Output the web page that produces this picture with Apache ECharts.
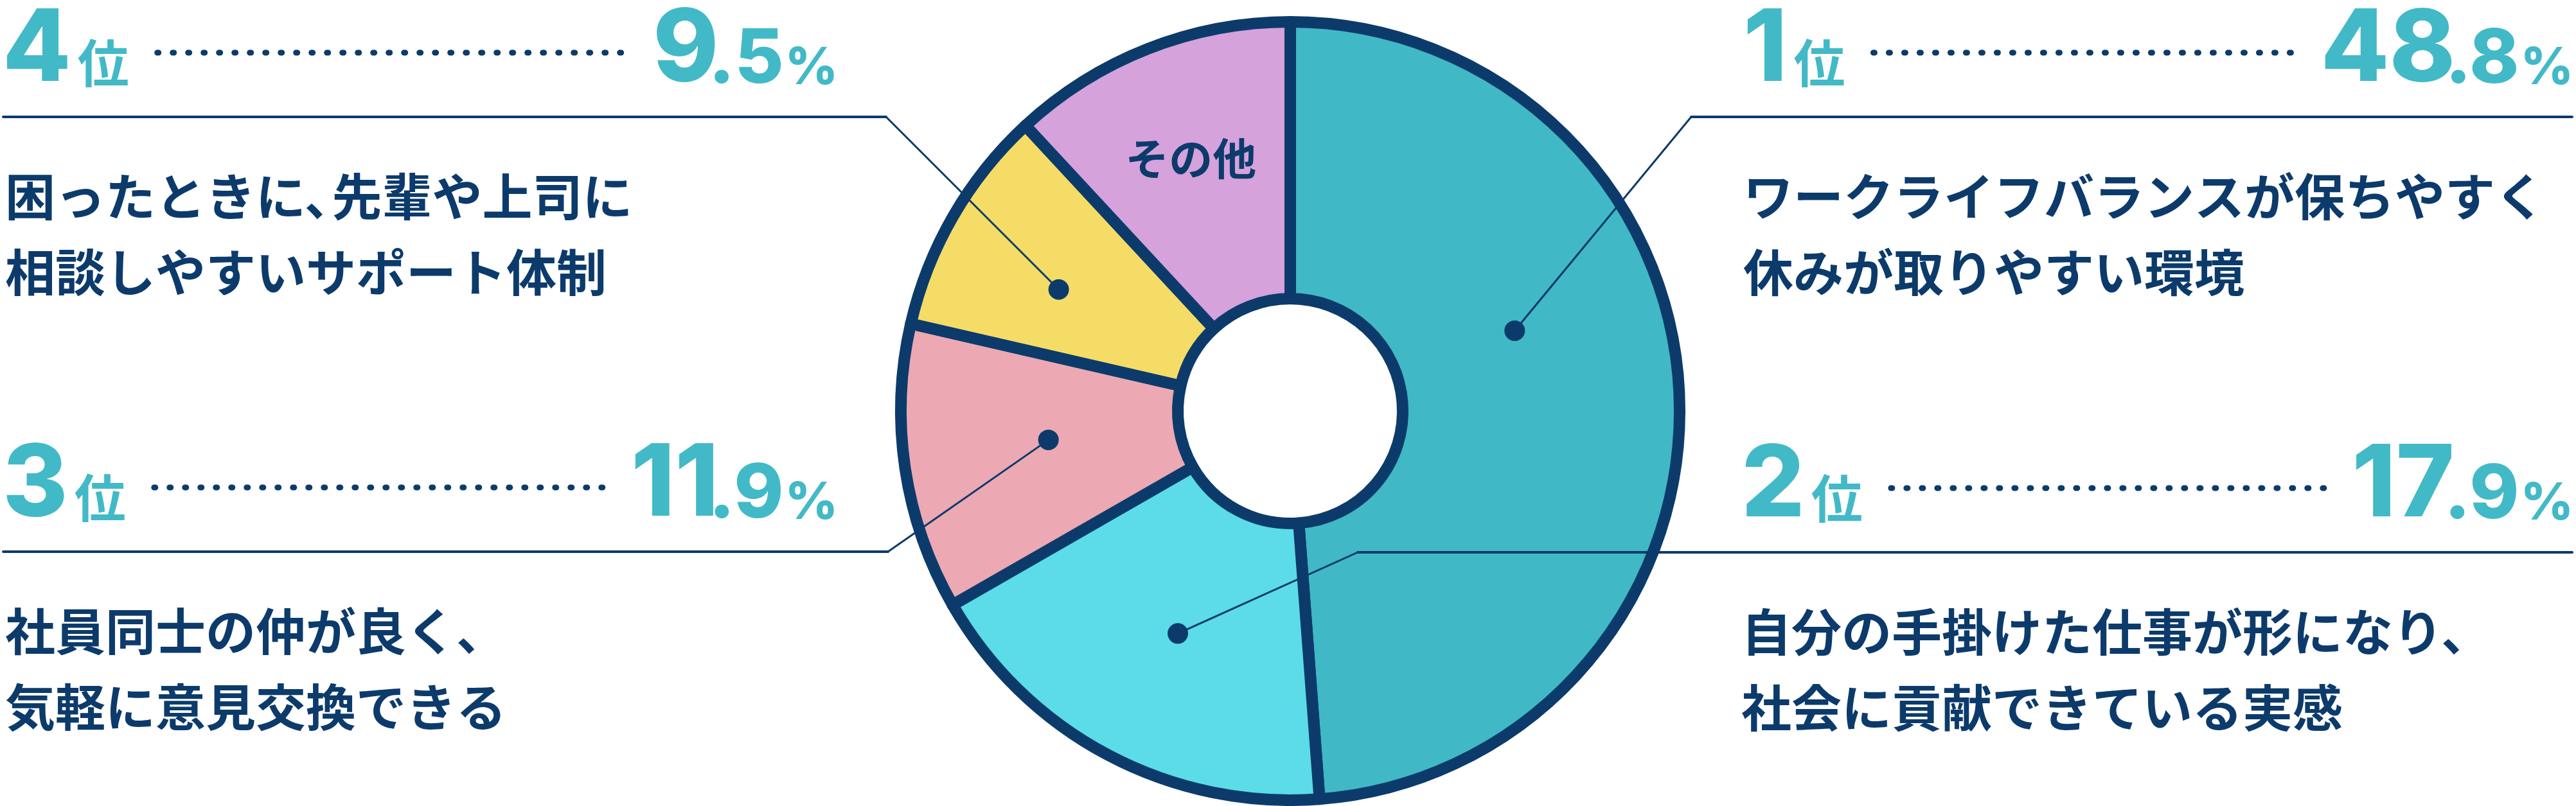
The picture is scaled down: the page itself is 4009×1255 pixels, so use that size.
<!DOCTYPE html>
<html lang="ja">
<head>
<meta charset="UTF-8">
<title>働きやすさの理由</title>
<script src="https://cdn.jsdelivr.net/npm/echarts@6/dist/echarts.min.js"></script>
<style>
  html, body { margin: 0; padding: 0; background: #fff; }
  #chart { width: 4009px; height: 1255px; }
</style>
</head>
<body>
<div id="chart"></div>
<script>
// ---- data ----
const names = [
  'ワークライフバランスが保ちやすく\n休みが取りやすい環境',
  '自分の手掛けた仕事が形になり、\n社会に貢献できている実感',
  '社員同士の仲が良く、\n気軽に意見交換できる',
  '困ったときに、先輩や上司に\n相談しやすいサポート体制',
  'その他'
];
const values = [48.8, 17.9, 11.9, 9.5, 11.9];
const ranks = [1, 2, 3, 4, null];
const rankSuffix = '位';

// ---- styles / layout ----
const NAVY = '#0c3b6b';
const TEAL = '#42b9c7';
const sliceColors = ['#41b8c6', '#5cdbe8', '#eca9b3', '#f5dc66', '#d5a2db'];
const PIE = { cx: 2008, cy: 640, r0: 175, r1: 606 };
const NUM_FONT = 'Inter';
const JP_FONT = '"Noto Sans CJK JP", "Noto Sans CJK SC", sans-serif';
const DESC_SIZE = 78;

// one block per ranked slice (same order as data)
const blocks = [
  { side: 'right', left: 2713, right: 4005, top: 0,   anchor: [70.3, 371],  bendX: 2632 },
  { side: 'right', left: 2710, right: 4005, top: 678, anchor: [206.8, 388], bendX: 2113 },
  { side: 'left',  left: 4,    right: 1304, top: 677, anchor: [263.2, 379], bendX: 1382 },
  { side: 'left',  left: 4,    right: 1304, top: 0,   anchor: [297.7, 407], bendX: 1379 }
];

const ctx = document.createElement('canvas').getContext('2d');
function measure(str, size, weight, family) {
  ctx.font = weight + ' ' + size + 'px ' + family;
  return ctx.measureText(str).width;
}
function txt(x, y, str, size, weight, family, fill, align) {
  return {
    type: 'text', x: x, y: y, z: 20, silent: true,
    style: {
      text: str, fill: fill, fontSize: size, fontWeight: weight, fontFamily: family,
      align: align, textAlign: align, verticalAlign: 'middle', textVerticalAlign: 'middle'
    }
  };
}

const graphics = [];
blocks.forEach(function (b, i) {
  const base = b.top + 136;
  const lineY = b.top + 182;

  // rank "1位"
  const rs = String(ranks[i]);
  const bigSize = 155, rkSize = 80;
  graphics.push(txt(b.left, base - 0.364 * bigSize, rs, bigSize, 800, NUM_FONT, TEAL, 'left'));
  const rw = measure(rs, bigSize, 800, NUM_FONT);
  const sufX = b.left + rw + 10;
  graphics.push(txt(sufX, base - 38, rankSuffix, rkSize, 'bold', JP_FONT, TEAL, 'left'));
  const rankEnd = sufX + measure(rankSuffix, rkSize, 'bold', JP_FONT);

  // value "48.8%"
  const parts = String(values[i]).split('.');
  const decSize = 117, pctSize = 80;
  let x = b.right;
  graphics.push(txt(x, base - 0.364 * pctSize, '%', pctSize, 800, NUM_FONT, TEAL, 'right'));
  x -= measure('%', pctSize, 800, NUM_FONT) + 2;
  const dec = '.' + parts[1];
  graphics.push(txt(x, base - 0.364 * decSize, dec, decSize, 800, NUM_FONT, TEAL, 'right'));
  x -= measure(dec, decSize, 800, NUM_FONT) - 16;
  graphics.push(txt(x, base - 0.364 * bigSize, parts[0], bigSize, 800, NUM_FONT, TEAL, 'right'));
  const valueStart = x - measure(parts[0], bigSize, 800, NUM_FONT);

  // dotted leader between rank and value
  graphics.push({
    type: 'line', z: 20, silent: true,
    shape: { x1: rankEnd + 44, y1: base - 54, x2: valueStart - 36, y2: base - 54 },
    style: { stroke: NAVY, lineWidth: 9, lineCap: 'round', lineDash: [2, 22] }
  });

  // description lines, with a compact ideographic comma
  const tx = b.side === 'left' ? 8 : b.left;
  names[i].split('\n').forEach(function (line, k) {
    let cx = tx;
    line.split(/(?<=、)/).forEach(function (seg) {
      graphics.push(txt(cx, b.top + 306 + k * 118, seg, DESC_SIZE, 'bold', JP_FONT, NAVY, 'left'));
      cx += measure(seg, DESC_SIZE, 'bold', JP_FONT);
      if (seg.endsWith('、')) cx -= DESC_SIZE * 0.45;
    });
  });

  // leader: dot in slice -> bend -> horizontal rule
  const a = b.anchor[0] * Math.PI / 180;
  const dx = PIE.cx + b.anchor[1] * Math.sin(a);
  const dy = PIE.cy - b.anchor[1] * Math.cos(a);
  const farX = b.side === 'left' ? 5 : 4003;
  graphics.push({
    type: 'polyline', z: 21, silent: true,
    shape: { points: [[farX, lineY], [b.bendX, lineY]] },
    style: { stroke: NAVY, lineWidth: 4, lineCap: 'round', fill: null }
  });
  graphics.push({
    type: 'line', z: 21, silent: true,
    shape: { x1: b.bendX, y1: lineY, x2: dx, y2: dy },
    style: { stroke: NAVY, lineWidth: 3, lineCap: 'round' }
  });
  graphics.push({
    type: 'circle', z: 22, silent: true,
    shape: { cx: dx, cy: dy, r: 16 },
    style: { fill: NAVY }
  });
});

const chart = echarts.init(document.getElementById('chart'), null, { renderer: 'canvas' });
chart.setOption({
  backgroundColor: '#ffffff',
  animation: false,
  series: [{
    type: 'pie',
    center: [PIE.cx, PIE.cy],
    radius: [PIE.r0, PIE.r1],
    startAngle: 90,
    clockwise: true,
    silent: true,
    emphasis: { disabled: true },
    itemStyle: { borderColor: NAVY, borderWidth: 18, borderJoin: 'round' },
    label: { show: false },
    labelLine: { show: false },
    data: values.map(function (v, i) {
      const item = { value: v, name: names[i], itemStyle: { color: sliceColors[i] } };
      if (ranks[i] === null) {
        item.label = {
          show: true, position: 'inside', offset: [-11, -27],
          formatter: '{b}', color: NAVY, fontSize: 68, fontWeight: 'bold', fontFamily: JP_FONT
        };
      }
      return item;
    })
  }],
  graphic: { elements: graphics }
});
</script>
</body>
</html>
